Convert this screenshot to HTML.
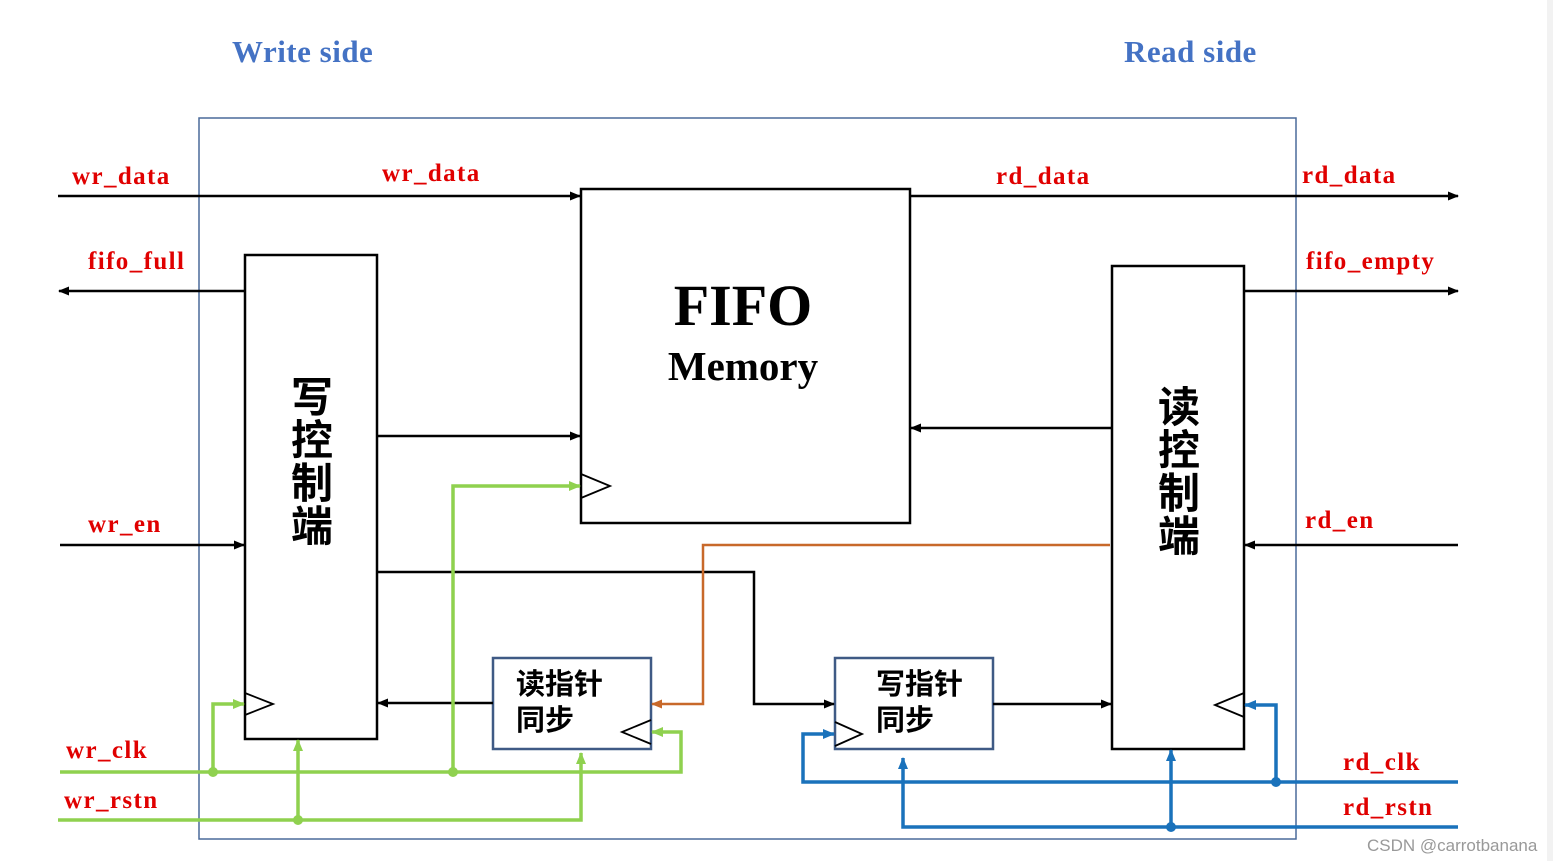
<!DOCTYPE html>
<html><head><meta charset="utf-8"><style>
html,body{margin:0;padding:0;background:#fff;}
svg{display:block}
.r{fill:#e00000;font-family:"Liberation Serif",serif;font-weight:bold;font-size:25px;letter-spacing:1.4px}
.b{fill:#4472c4;font-family:"Liberation Serif",serif;font-weight:bold;font-size:31px;letter-spacing:0.5px}
.c{font-family:"Liberation Sans","Noto Sans CJK SC",sans-serif;font-weight:bold;fill:#000}
</style></head><body>
<svg width="1553" height="861" viewBox="0 0 1553 861" xmlns="http://www.w3.org/2000/svg">
<defs>
<marker id="ak" markerWidth="11" markerHeight="9" refX="10" refY="4.5" orient="auto" markerUnits="userSpaceOnUse"><path d="M0,0 L11,4.5 L0,9 z" fill="#000"/></marker>
<marker id="ag" markerWidth="12" markerHeight="10" refX="11" refY="5" orient="auto" markerUnits="userSpaceOnUse"><path d="M0,0 L12,5 L0,10 z" fill="#8fd14f"/></marker>
<marker id="ab" markerWidth="12" markerHeight="10" refX="11" refY="5" orient="auto" markerUnits="userSpaceOnUse"><path d="M0,0 L12,5 L0,10 z" fill="#1a72bb"/></marker>
<marker id="ao" markerWidth="11" markerHeight="9" refX="10" refY="4.5" orient="auto" markerUnits="userSpaceOnUse"><path d="M0,0 L11,4.5 L0,9 z" fill="#c8692a"/></marker>
</defs>
<rect x="1547" y="0" width="6" height="861" fill="#f2f2f2"/>
<text x="232" y="62" class="b">Write side</text>
<text x="1124" y="62" class="b">Read side</text>
<rect x="199" y="118" width="1097" height="721" fill="none" stroke="#4a6a9a" stroke-width="1.5"/>

<g fill="none" stroke="#000" stroke-width="2.5">
<rect x="245" y="255" width="132" height="484"/>
<rect x="1112" y="266" width="132" height="483"/>
<rect x="581" y="189" width="329" height="334"/>
</g>
<g fill="none" stroke="#3f5a85" stroke-width="2.5">
<rect x="493" y="658" width="158" height="91"/>
<rect x="835" y="658" width="158" height="91"/>
</g>

<text x="743" y="325" text-anchor="middle" font-family="Liberation Serif,serif" font-weight="bold" font-size="58">FIFO</text>
<text x="743" y="380" text-anchor="middle" font-family="Liberation Serif,serif" font-weight="bold" font-size="41">Memory</text>
<g class="c" font-size="42" text-anchor="middle">
<text x="312" y="412">写</text><text x="312" y="455">控</text><text x="312" y="498">制</text><text x="312" y="541">端</text>
<text x="1179" y="422">读</text><text x="1179" y="465">控</text><text x="1179" y="508">制</text><text x="1179" y="551">端</text>
</g>
<g class="c" font-size="29" font-weight="normal">
<text x="516" y="694">读指针</text><text x="516" y="730">同步</text>
<text x="876" y="694">写指针</text><text x="876" y="730">同步</text>
</g>

<g fill="none" stroke="#000" stroke-width="1.8">
<path d="M245,693 L273,704 L245,715"/>
<path d="M581,474 L610,486 L581,498"/>
<path d="M651,720 L622,732 L651,744"/>
<path d="M835,722 L862,734 L835,746"/>
<path d="M1244,693 L1215,705 L1244,717"/>
</g>

<g fill="none" stroke="#000" stroke-width="2.5">
<path d="M58,196 H580" marker-end="url(#ak)"/>
<path d="M910,196 H1458" marker-end="url(#ak)"/>
<path d="M245,291 H59" marker-end="url(#ak)"/>
<path d="M1244,291 H1458" marker-end="url(#ak)"/>
<path d="M377,436 H580" marker-end="url(#ak)"/>
<path d="M1112,428 H911" marker-end="url(#ak)"/>
<path d="M60,545 H244" marker-end="url(#ak)"/>
<path d="M1458,545 H1245" marker-end="url(#ak)"/>
<path d="M377,572 H754 V704 H834" marker-end="url(#ak)"/>
<path d="M993,704 H1111" marker-end="url(#ak)"/>
<path d="M493,703 H378" marker-end="url(#ak)"/>
</g>
<path d="M1110,545 H703 V704 H652" fill="none" stroke="#c8692a" stroke-width="2.5" marker-end="url(#ao)"/>

<g fill="none" stroke="#8fd14f" stroke-width="3.5">
<path d="M60,772 H681 V732 H652" marker-end="url(#ag)"/>
<path d="M213,772 V704 H244" marker-end="url(#ag)"/>
<path d="M453,772 V486 H580" marker-end="url(#ag)"/>
<path d="M58,820 H581 V753" marker-end="url(#ag)"/>
<path d="M298,820 V740" marker-end="url(#ag)"/>
</g>
<g fill="#8fd14f"><circle cx="213" cy="772" r="5"/><circle cx="453" cy="772" r="5"/><circle cx="298" cy="820" r="5"/></g>

<g fill="none" stroke="#1a72bb" stroke-width="3.5">
<path d="M1458,782 H803 V734 H834" marker-end="url(#ab)"/>
<path d="M1276,782 V705 H1245" marker-end="url(#ab)"/>
<path d="M1458,827 H903 V758" marker-end="url(#ab)"/>
<path d="M1171,827 V750" marker-end="url(#ab)"/>
</g>
<g fill="#1a72bb"><circle cx="1276" cy="782" r="5"/><circle cx="1171" cy="827" r="5"/></g>

<text x="72" y="184" class="r">wr_data</text>
<text x="382" y="181" class="r">wr_data</text>
<text x="996" y="184" class="r">rd_data</text>
<text x="1302" y="183" class="r">rd_data</text>
<text x="88" y="269" class="r">fifo_full</text>
<text x="1306" y="269" class="r">fifo_empty</text>
<text x="88" y="532" class="r">wr_en</text>
<text x="1305" y="528" class="r">rd_en</text>
<text x="66" y="758" class="r">wr_clk</text>
<text x="64" y="808" class="r">wr_rstn</text>
<text x="1343" y="770" class="r">rd_clk</text>
<text x="1343" y="815" class="r">rd_rstn</text>
<text x="1367" y="851" font-family="Liberation Sans,sans-serif" font-size="17" fill="#999">CSDN @carrotbanana</text>
</svg>
</body></html>
